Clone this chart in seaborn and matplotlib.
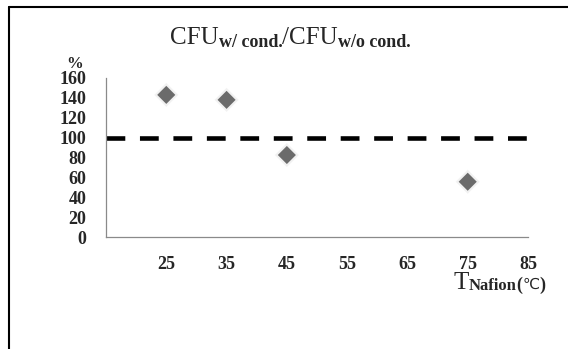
import seaborn as sns
import pandas as pd
import matplotlib.pyplot as plt

# data
t_nafion = [25, 35, 45, 75]
ratio = [143, 138, 82.5, 55.6]
x_ticks = [25, 35, 45, 55, 65, 75, 85]
y_ticks = [0, 20, 40, 60, 80, 100, 120, 140, 160]
ref_level = 100

df = pd.DataFrame({'T': t_nafion, 'ratio': ratio})

sns.set_style('white')
plt.rcParams['font.family'] = ['Liberation Serif', 'DejaVu Serif']

W, H = 568, 349
fig = plt.figure(figsize=(W / 100, H / 100), dpi=100)
ax = fig.add_axes([106 / W, 1 - 237 / H, (528 - 106) / W, (237 - 78) / H])

# faint glow under the markers
sns.scatterplot(data=df, x='T', y='ratio', ax=ax, marker='D', s=150,
                color='#e2e2e2', edgecolor='none', alpha=0.45, zorder=2)
sns.scatterplot(data=df, x='T', y='ratio', ax=ax, marker='D', s=85,
                color='#6b6b6b', edgecolor='none', zorder=3)
ax.hlines(ref_level, 15, 85, colors='black', linewidth=3.3,
          linestyles=(0, (4.1, 3.2)), zorder=1)

ax.set_xlim(15, 85)
ax.set_ylim(0, 160)
ax.set_xticks(x_ticks)
ax.set_yticks(y_ticks)
ax.set_xlabel('')
ax.set_ylabel('')
for s in ['top', 'right']:
    ax.spines[s].set_visible(False)
for s in ['left', 'bottom']:
    ax.spines[s].set_color('#8a8a8a')
    ax.spines[s].set_linewidth(0.9)
ax.tick_params(axis='both', direction='in', length=4, width=0.8,
               color='#8a8a8a', labelsize=13)
ax.tick_params(axis='y', pad=14)
ax.tick_params(axis='x', pad=14)
for lab in ax.get_xticklabels() + ax.get_yticklabels():
    lab.set_fontweight('bold')

renderer = fig.canvas.get_renderer()


def chain(x0, pieces):
    # put text pieces one after another, left to right (pixel coords)
    x = x0
    for txt, y, kw in pieces:
        t = fig.text(x / W, 1 - y / H, txt, ha='left', va='baseline', **kw)
        x = t.get_window_extent(renderer=renderer).x1


big = dict(fontsize=18)
sub = dict(fontsize=13, fontweight='bold')

# title
chain(170, [('CFU', 44, big), ('w/ cond.', 47, sub),
            ('/CFU', 44, big), ('w/o cond.', 47, sub)])
# y unit
fig.text(75 / W, 1 - 64 / H, '%', fontsize=12, fontweight='bold', ha='center', va='center')
# x label
chain(453, [('T', 289, big), ('Nafion', 290, dict(fontsize=12, fontweight='bold')),
            ('(', 290, dict(fontsize=13, fontweight='bold')),
            ('℃', 289, dict(fontsize=11, family=['DejaVu Sans'])),
            (')', 290, dict(fontsize=13, fontweight='bold'))])

# frame lines around picture (left and top only visible)
fig.add_artist(plt.Line2D([9 / W, 9 / W], [0, 1 - 7 / H], color='black', linewidth=1.5))
fig.add_artist(plt.Line2D([9 / W, 1], [1 - 7 / H, 1 - 7 / H], color='black', linewidth=1.5))

fig.savefig('out.png', dpi=100)
